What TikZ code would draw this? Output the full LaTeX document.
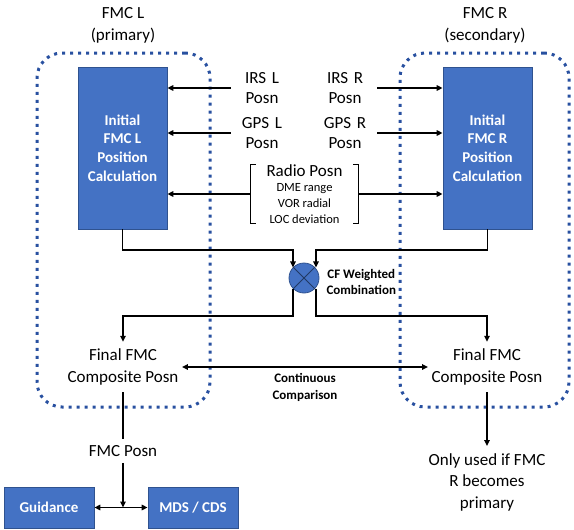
\documentclass[tikz,border=0pt]{standalone}
\usepackage{fontspec}
\setmainfont{Carlito}
\usetikzlibrary{arrows.meta,calc}
\definecolor{boxblue}{RGB}{68,114,196}
\definecolor{boxedge}{RGB}{47,82,143}
\definecolor{dotblue}{RGB}{40,80,160}
\begin{document}
\begin{tikzpicture}[x=1pt,y=-1pt,
  conn/.style={line width=1.5pt, black},
  arr/.style={conn, -{Triangle[length=6pt,width=5.5pt]}},
  darr/.style={conn, {Triangle[length=6pt,width=5.5pt]}-{Triangle[length=6pt,width=5.5pt]}},
  group/.style={draw=dotblue, line width=3pt, dash pattern=on 3pt off 5pt, rounded corners=25pt, inner sep=0pt},
  calcbox/.style={draw=boxedge, line width=0.8pt, fill=boxblue, text=white, font=\fontsize{15}{18.7}\selectfont\bfseries, align=center, inner sep=0pt},
  lbl/.style={font=\fontsize{17}{21.5}\selectfont, align=center},
  inlbl/.style={font=\fontsize{17}{20}\selectfont, align=center, text width=52pt, inner xsep=5pt},
  small/.style={font=\fontsize{13}{16}\selectfont\bfseries, align=center},
  brk/.style={line width=1.3pt, black}
]
\useasboundingbox (0,0) rectangle (574,530);

% groups
\node[group, minimum width=173pt, minimum height=354pt] (grpL) at (123.5,230) {};
\node[group, minimum width=169pt, minimum height=354pt] (grpR) at (484.5,230) {};

% titles
\node[lbl, font=\fontsize{17}{22}\selectfont] (tL) at (123,25) {FMC L\\(primary)};
\node[lbl, font=\fontsize{17}{22}\selectfont] (tR) at (485,25) {FMC R\\(secondary)};

% calculation boxes
\node[calcbox, minimum width=89pt, minimum height=162pt] (boxL) at (122.5,148) {Initial\\FMC L\\Position\\Calculation};
\node[calcbox, minimum width=89pt, minimum height=162pt] (boxR) at (487.5,148) {Initial\\FMC R\\Position\\Calculation};

% sensor inputs
\node[inlbl] (irsL) at (262,88) {IRS L\\Posn};
\node[inlbl] (gpsL) at (262,133) {GPS L\\Posn};
\node[inlbl, inner xsep=6pt] (irsR) at (345,88) {IRS R\\Posn};
\node[inlbl, inner xsep=6pt] (gpsR) at (345,133) {GPS R\\Posn};

\draw[arr] (irsL.west) -- (irsL.west -| boxL.east);
\draw[arr] (gpsL.west) -- (gpsL.west -| boxL.east);
\draw[arr] (irsR.east) -- (irsR.east -| boxR.west);
\draw[arr] (gpsR.east) -- (gpsR.east -| boxR.west);

% radio block
\node[minimum width=107pt, minimum height=56pt, inner sep=0pt, align=center,
      font=\fontsize{12.5}{15.7}\selectfont] (radio) at (304.5,194)
  {{\fontsize{17}{15.7}\selectfont Radio Posn}\\[-0.5pt]DME range\\VOR radial\\LOC deviation};
\draw[brk] ([xshift=5pt]radio.north west) -- (radio.north west) -- (radio.south west) -- ([xshift=5pt]radio.south west);
\draw[brk] ([xshift=-5pt]radio.north east) -- (radio.north east) -- (radio.south east) -- ([xshift=-5pt]radio.south east);
\draw[arr] (radio.west) -- (radio.west -| boxL.east);
\draw[arr] (radio.east) -- (radio.east -| boxR.west);

% combination
\node[circle, draw=boxedge, line width=0.8pt, fill=boxblue, minimum size=30pt, inner sep=0pt] (cf) at (304,278) {};
\draw[boxedge!70!black, line width=0.9pt] (cf.north west) -- (cf.south east);
\draw[boxedge!70!black, line width=0.9pt] (cf.north east) -- (cf.south west);
\node[small, anchor=west] (cftxt) at (323,282) {CF Weighted\\Combination};

\coordinate (jl) at (293,250);
\coordinate (jr) at (316,250);
\coordinate (bl) at (293,316);
\coordinate (br) at (316,316);
\draw[arr] (boxL.south) |- (jl) -- (jl |- cf.137);
\draw[arr] (boxR.south) |- (jr) -- (jr |- cf.43);

% final positions
\node[lbl, inner ysep=7pt] (finL) at (123,367) {Final FMC\\Composite Posn};
\node[lbl, inner ysep=7pt] (finR) at (487,367) {Final FMC\\Composite Posn};
\draw[arr] (bl |- cf.223) -- (bl) -| (finL.north);
\draw[arr] (br |- cf.-43) -- (br) -| (finR.north);

\draw[darr] (finL.east) -- (finR.west);
\node[small, font=\fontsize{13}{17}\selectfont\bfseries] (cmp) at (305,387) {Continuous\\Comparison};

% outputs
\node[lbl, inner ysep=6pt] (fmcp) at (123,451) {FMC Posn};
\draw[conn] (finL.south) -- (fmcp.north);

\node[calcbox, minimum width=90pt, minimum height=41pt] (guid) at (49,507.5) {Guidance};
\node[calcbox, minimum width=90pt, minimum height=41pt] (mds) at (193,507.5) {MDS / CDS};
\draw[darr] (guid.east) -- (mds.west);
\draw[arr] (fmcp.south) -- (fmcp.south |- guid.east);

\node[lbl, inner ysep=7pt] (only) at (487,482) {Only used if FMC\\R becomes\\primary};
\draw[arr] (finR.south) -- (only.north);
\end{tikzpicture}
\end{document}
